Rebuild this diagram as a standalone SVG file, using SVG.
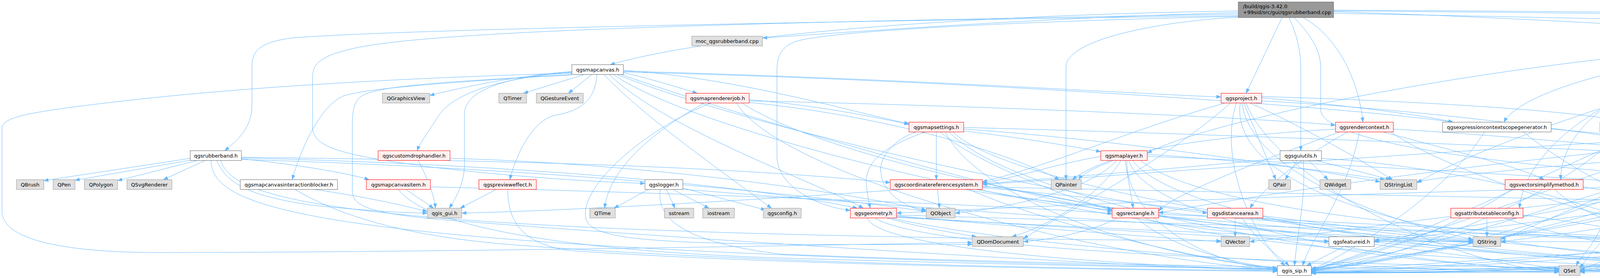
<svg xmlns="http://www.w3.org/2000/svg" width="6627" height="711" viewBox="0 0 6627 711">
<style>
.w{fill:#ffffff;stroke:#666666;stroke-width:1}
.g{fill:#e0e0e0;stroke:#999999;stroke-width:1}
.r{fill:#fff0f0;stroke:#ff0000;stroke-width:1}
.rt{fill:#999999;stroke:#666666;stroke-width:1}
text{font-family:"DejaVu Sans","Liberation Sans",sans-serif;font-size:13px;fill:#000000;text-anchor:middle}
#edges path{fill:none;stroke:#63b8ff;stroke-width:1;marker-end:url(#a)}
</style>
<defs>
<marker id="a" markerWidth="12" markerHeight="9" refX="12" refY="4.5" orient="auto" markerUnits="userSpaceOnUse"><path d="M0,0 L12,4.5 L0,9 z" fill="#63b8ff" stroke="#63b8ff" stroke-width="0.5"/></marker>
</defs>
<rect x="0" y="0" width="6627" height="711" fill="#ffffff"/>
<g id="edges">
<path d="M3170,40 C2300,52 1100,72 760,96 C665,105 645,130 645,170 L645,270 C645,325 610,358 575,385.5"/>
<path d="M3170,32 C2600,48 2150,85 1952,97"/>
<path d="M3170,28 C2400,40 1800,95 1562,165.5"/>
<path d="M3170,36 C2000,56 1100,76 900,125 C815,145 800,165 800,200 L800,325 C800,378 880,398 1110,428 C1350,456 1550,466 1651,469"/>
<path d="M3170,42 C2700,52 2150,75 2040,105 C2000,118 1989,145 1989,180 L1989,400 C1989,470 2080,527 2177,538"/>
<path d="M3170,44 C3000,52 2729,95 2729,172 L2729,459.5"/>
<path d="M3282,45 L3190,238.5"/>
<path d="M3300,45 C3322,95 3330,130 3330,180 L3330,385.5"/>
<path d="M3336,45 C3420,90 3478,200 3489,312.5"/>
<path d="M3313,45 C3360,95 3381,130 3381,175 L3381,280 C3381,360 3800,430 4584,468"/>
<path d="M3414,30 C4000,48 4500,85 4793,101"/>
<path d="M3414,28 C4500,35 5800,60 6250,85 C6330,95 6380,130 6400,165.5"/>
<path d="M3414,26 C4500,30 6000,55 6300,90 C6420,110 6500,140 6530,165.5"/>
<path d="M3414,34 C4500,55 5700,80 6150,130 C6250,145 6300,180 6306,238.5"/>
<path d="M487,405 L112,462"/>
<path d="M492,409 L192,461"/>
<path d="M505,410.5 L301,462"/>
<path d="M525,410.5 L418,459.5"/>
<path d="M618,406 C750,420 880,440 945,459.5"/>
<path d="M555,410.5 C580,470 640,502 800,525 C950,540 1040,545 1094,545"/>
<path d="M618,402 C1200,410 1800,420 2279,467"/>
<path d="M618,404 C1300,420 1900,470 2195,532.5"/>
<path d="M618,408 C1400,430 2100,500 2371,541"/>
<path d="M565,410.5 C600,520 900,600 3126,616"/>
<path d="M540,410.5 C545,540 800,640 3270,688"/>
<path d="M1464,183 C1300,195 1150,232 1100,244"/>
<path d="M1496,190.5 L1340,238.5"/>
<path d="M1515,190.5 L1455,238.5"/>
<path d="M1596,186 C1680,205 1740,225 1785,238.5"/>
<path d="M1464,186 C1250,200 1150,250 1120,300 C1095,340 1075,365 1068,385.5"/>
<path d="M1464,190 C1100,215 950,225 880,245 C820,270 770,380 748,459.5"/>
<path d="M1528,190.5 C1525,260 1480,285 1420,295 C1360,310 1320,400 1305,459.5"/>
<path d="M1464,184 C1300,195 1190,230 1189,290 L1189,420 C1189,470 1165,510 1150,532.5"/>
<path d="M1596,180 C1900,200 2200,292 2327,316"/>
<path d="M1546,190.5 C1650,300 1850,440 1975,532.5"/>
<path d="M1596,182 C2300,200 2900,240 3126,248"/>
<path d="M1596,184 C2600,210 3500,280 3720,312.5"/>
<path d="M1590,190.5 C1900,300 2600,500 2847,541"/>
<path d="M1580,190.5 C1900,320 2700,500 3091,545"/>
<path d="M1570,190.5 C1800,350 2800,580 3402,617"/>
<path d="M1560,190.5 C1700,330 2100,470 2210,532.5"/>
<path d="M1464,187 C1000,200 600,225 300,260 C60,288 5,300 5,330 L5,540 C5,610 150,645 400,646 C1200,645 2200,625 2489,620"/>
<path d="M1464,192 C1100,210 950,222 920,250 C905,265 902,290 902,320 L902,490 C902,530 960,545 1110,560 C1600,600 2800,680 3270,692"/>
<path d="M1918,255 C2100,270 2250,302 2327,318"/>
<path d="M1803,263.5 C1700,320 1560,420 1548,532.5"/>
<path d="M1918,258 C2500,270 3200,300 3419,320"/>
<path d="M1900,263.5 C2100,400 3000,650 4730,690"/>
<path d="M1885,263.5 C2000,450 2800,660 3270,690"/>
<path d="M1918,262 C2300,300 2600,400 2712,459.5"/>
<path d="M1820,263.5 C1650,330 1480,480 1500,560 C1520,620 1700,628 2489,625"/>
<path d="M804,484.5 C950,505 1050,530 1094,541"/>
<path d="M755,484.5 C850,540 1000,600 1300,625 C2000,680 3000,690 3270,692"/>
<path d="M1039,484.5 L1110,532.5"/>
<path d="M1102,478 C1600,490 2500,520 2847,546"/>
<path d="M1020,484.5 C1080,570 1400,640 2000,660 C2700,680 3100,686 3270,686"/>
<path d="M1152,405 C1700,420 2200,500 2371,537"/>
<path d="M1071,410.5 C1090,450 1110,490 1115,532.5"/>
<path d="M1270,484.5 L1178,532.5"/>
<path d="M1300,484.5 C1300,560 1330,620 1450,640 C2000,680 3000,692 3270,694"/>
<path d="M1706,484.5 L1728,532.5"/>
<path d="M1723,484.5 L1815,532.5"/>
<path d="M1748,481 L1960,537"/>
<path d="M1660,484.5 L1572,532.5"/>
<path d="M1690,484.5 C1680,560 1750,620 2000,650 C3000,690 4200,692 4730,692"/>
<path d="M1748,484 C2200,520 3300,600 3771,618"/>
<path d="M2397,337.5 L2397,459.5"/>
<path d="M2467,335 C2600,350 2750,375 2818,388"/>
<path d="M2345,337.5 C2280,360 2250,410 2255,440 C2260,500 2330,535 2371,540"/>
<path d="M2368,337.5 C2250,380 2215,420 2218,470 C2220,500 2225,520 2228,532.5"/>
<path d="M2407,337.5 C2500,420 2750,510 2847,538"/>
<path d="M2440,337.5 C2600,500 3800,680 4730,688"/>
<path d="M2420,337.5 C2500,500 2900,650 3270,686"/>
<path d="M2467,330 C2900,360 3400,440 3533,465"/>
<path d="M2467,326 C3200,345 4000,380 4311,395"/>
<path d="M2430,337.5 C2600,520 3500,680 3991,688"/>
<path d="M2850,410.5 C2800,430 2770,445 2762,459.5"/>
<path d="M2818,400 C2700,420 2600,455 2515,468"/>
<path d="M2880,410.5 L2901,532.5"/>
<path d="M2858,410.5 C2800,480 2600,530 2445,545"/>
<path d="M2870,410.5 C2800,520 2650,590 2590,605.5"/>
<path d="M2900,410.5 C3000,550 3700,680 4730,690"/>
<path d="M2885,410.5 C2880,560 3100,680 3270,689"/>
<path d="M2937,400 C3500,420 4800,500 5119,540"/>
<path d="M2937,395 C3200,410 3450,445 3545,459.5"/>
<path d="M2890,410.5 C2950,600 3800,690 3991,692"/>
<path d="M2920,410.5 C3100,560 4000,610 4258,615"/>
<path d="M2400,484.5 L2405,532.5"/>
<path d="M2500,484.5 C2900,560 4000,680 4730,689"/>
<path d="M2480,484.5 C2700,580 3100,670 3270,687"/>
<path d="M2515,480 C3000,520 3500,600 3771,615"/>
<path d="M2515,476 C2650,490 2780,520 2847,535"/>
<path d="M2515,478 C3500,500 4800,520 5119,543"/>
<path d="M2470,484.5 C2900,560 4000,610 4258,618"/>
<path d="M2270,557.5 C2350,580 2450,598 2500,605.5"/>
<path d="M2295,552 C2600,580 3000,610 3126,618"/>
<path d="M2295,556 C2900,590 3500,612 3771,620"/>
<path d="M2240,557.5 C2400,660 3800,690 4730,693"/>
<path d="M2220,557.5 C2250,640 2900,680 3270,690"/>
<path d="M2295,554 C2700,580 3200,610 3402,618"/>
<path d="M2295,550 C3000,570 3900,600 4258,612"/>
<path d="M2280,557.5 C2700,650 3600,692 3991,696"/>
<path d="M2860,557.5 C2800,590 2700,612 2620,618"/>
<path d="M2930,557.5 C3200,650 4200,690 4730,691"/>
<path d="M2910,557.5 C3000,640 3200,680 3270,686"/>
<path d="M2966,552 C3300,580 3600,610 3771,617"/>
<path d="M2966,548 C3500,570 4000,600 4258,610"/>
<path d="M3184,263.5 L3266,459.5"/>
<path d="M3200,263.5 C3350,330 3500,420 3565,459.5"/>
<path d="M3136,263.5 C2900,330 2700,420 2515,465"/>
<path d="M3230,250 C3450,270 3650,295 3720,312.5"/>
<path d="M3230,247 C3700,260 4100,290 4150,312.5"/>
<path d="M3175,263.5 C3150,450 3500,650 4730,690"/>
<path d="M3165,263.5 C3120,400 3200,600 3290,679.5"/>
<path d="M3230,258 C4000,300 4800,450 4900,532.5"/>
<path d="M3180,263.5 C3200,450 3600,580 3771,612"/>
<path d="M3150,263.5 C3000,400 2700,560 2620,610"/>
<path d="M3190,263.5 C3260,450 3700,680 3991,694"/>
<path d="M3419,330 C3100,350 2850,380 2745,459.5"/>
<path d="M3540,337.5 C3700,380 3900,430 3953,459.5"/>
<path d="M3567,330 C3900,350 4200,380 4311,392"/>
<path d="M3450,337.5 C3300,420 3220,500 3200,532.5"/>
<path d="M3430,337.5 C3200,420 3000,500 2966,540"/>
<path d="M3560,337.5 C3800,500 4500,660 4730,687"/>
<path d="M3480,337.5 C3450,500 3350,620 3335,679.5"/>
<path d="M3320,410.5 L3290,459.5"/>
<path d="M3350,410.5 L3400,459.5"/>
<path d="M3370,410.5 L3560,459.5"/>
<path d="M3277,405 C2500,480 1600,535 1182,545"/>
<path d="M3336,410.5 C3345,500 3320,600 3314,679.5"/>
<path d="M3383,405 C3800,430 4200,560 4270,605.5"/>
<path d="M3162,557.5 L3162,605.5"/>
<path d="M3233,552 C3600,600 4400,680 4730,690"/>
<path d="M3180,557.5 C3220,620 3280,660 3300,679.5"/>
<path d="M3440,630.5 L3345,679.5"/>
<path d="M3518,625 C3800,660 3950,680 3991,690"/>
<path d="M3518,617 L3771,618"/>
<path d="M3971,330 C4150,345 4280,360 4326,385.5"/>
<path d="M3800,337.5 C3700,500 3450,650 3357,690"/>
<path d="M3900,337.5 C4100,500 4500,660 4730,686"/>
<path d="M4250,337.5 L4340,385.5"/>
<path d="M4150,337.5 C4000,500 3600,660 3357,694"/>
<path d="M4053,478 C4200,500 4270,560 4280,605.5"/>
<path d="M3980,484.5 C4100,600 4500,680 4730,689"/>
<path d="M3870,484.5 C3700,600 3450,670 3357,690"/>
<path d="M3806.5,557.5 L3806.5,605.5"/>
<path d="M3850,557.5 C4100,640 4500,680 4730,688"/>
<path d="M3899,550 C4050,570 4200,595 4258,612"/>
<path d="M4300,630.5 C4500,670 4650,685 4730,689"/>
<path d="M4258,625 C4000,660 3600,690 3357,693"/>
<path d="M4258,618 L3842,618"/>
<path d="M4437,410.5 C4500,430 4560,445 4592,459.5"/>
<path d="M4415,410.5 C4500,500 4600,600 4745,679.5"/>
<path d="M4330,410.5 C4200,500 3700,660 3357,690"/>
<path d="M4320,410.5 C4100,500 3900,590 3842,612"/>
<path d="M4311,400 C4000,420 3700,450 3627,465"/>
<path d="M4340,410.5 C4200,440 4100,470 4105,540 C4108,600 4050,650 4035,679.5"/>
<path d="M4487,405 C4700,430 4880,490 4905,532.5"/>
<path d="M4487,402 C4800,420 5050,500 5135,532.5"/>
<path d="M4350,410.5 C4320,480 4295,560 4292,605.5"/>
<path d="M4890,117.5 L4985,165.5"/>
<path d="M4858,117.5 L4858,238.5"/>
<path d="M4843,117.5 C4790,170 4745,215 4750,250 C4755,285 4790,300 4805,312.5"/>
<path d="M4793,112 C4650,130 4580,180 4578,250 C4575,350 4600,410 4623,459.5"/>
<path d="M4793,110 C4600,130 4526,170 4526,230 L4526,550 C4526,580 4535,595 4540,605.5"/>
<path d="M4793,108 C4560,125 4470,180 4460,250 C4450,320 4425,360 4415,385.5"/>
<path d="M4793,104 C4500,120 4300,200 4230,312.5"/>
<path d="M4793,102 C4300,120 3900,220 3850,312.5"/>
<path d="M4793,106 C4200,140 4000,300 3995,459.5"/>
<path d="M4793,109 C4100,150 3900,400 3890,532.5"/>
<path d="M4793,100 C4000,120 3100,300 2937,392"/>
<path d="M4820,117.5 C4700,300 4700,550 4760,679.5"/>
<path d="M4800,117.5 C4300,250 3700,600 3357,689"/>
<path d="M4924,108 C5100,200 5150,400 5155,532.5"/>
<path d="M4810,117.5 C4400,300 4100,600 4045,686"/>
<path d="M4880,117.5 C4950,250 4930,450 4922,532.5"/>
<path d="M4793,111 C4200,200 3700,420 3627,468"/>
<path d="M4924,100 C5400,120 5900,160 6114,178"/>
<path d="M4924,103 C5500,125 6000,165 6198,176"/>
<path d="M4815,117.5 C4600,250 4350,500 4300,605.5"/>
<path d="M4924,113 C5050,150 5180,210 5206,238.5"/>
<path d="M4924,116 C5100,160 5330,210 5383,238.5"/>
<path d="M4924,110 C5400,130 5714,180 5714,250 C5714,350 5650,470 5578,532.5"/>
<path d="M4924,106 C5500,120 5800,160 5922,238.5"/>
<path d="M4924,109 C5500,135 5700,200 5838,312.5"/>
<path d="M4990,190.5 L4885,238.5"/>
<path d="M5005,190.5 C4980,240 4920,290 4880,312.5"/>
<path d="M4924,188 C4800,205 4720,240 4710,300 C4700,380 4650,430 4640,459.5"/>
<path d="M5040,190.5 C5000,300 4950,450 4930,532.5"/>
<path d="M5030,190.5 C5080,300 5140,450 5149,532.5"/>
<path d="M5052,190.5 C5150,210 5210,225 5229,238.5"/>
<path d="M5104,184 C5400,200 5550,300 5560,532.5"/>
<path d="M5000,190.5 C4950,400 4850,600 4800,679.5"/>
<path d="M4970,190.5 C4700,400 3800,650 3357,692"/>
<path d="M4985,190.5 C4800,400 4300,680 4045,694"/>
<path d="M4850,263.5 L4835,312.5"/>
<path d="M4945,263.5 C5050,400 5000,600 4826,688"/>
<path d="M4765,255 C4400,300 3700,600 3357,690"/>
<path d="M4825,337.5 L4665,459.5"/>
<path d="M4765,330 C4650,360 4550,385 4487,392"/>
<path d="M4850,337.5 L4905,532.5"/>
<path d="M4860,337.5 C4960,420 4980,600 4805,679.5"/>
<path d="M4765,332 C4400,360 3800,620 3357,687"/>
<path d="M4765,335 C4000,380 3200,500 2966,545"/>
<path d="M4765,333 C4000,360 3000,440 2515,472"/>
<path d="M4800,337.5 C4500,450 3800,580 3518,615"/>
<path d="M4780,337.5 C4500,420 4200,640 4045,690"/>
<path d="M4688,478 C4800,500 4870,520 4895,532.5"/>
<path d="M4660,484.5 C4700,560 4760,620 4770,679.5"/>
<path d="M4584,480 C4300,520 3700,640 3357,690"/>
<path d="M4688,475 C5000,490 5400,520 5508,545"/>
<path d="M4688,480 C4900,500 5050,530 5119,545"/>
<path d="M4584,472 C3800,480 2800,520 2295,545"/>
<path d="M4590,484.5 C4200,530 3700,600 3518,618"/>
<path d="M4584,476 C4000,500 3400,600 3199,618"/>
<path d="M4600,484.5 C4300,560 4000,600 3842,618"/>
<path d="M4610,484.5 C4400,600 4150,680 4045,692"/>
<path d="M4600,630.5 C4650,660 4700,675 4752,679.5"/>
<path d="M4446,625 C4000,650 3600,680 3357,692"/>
<path d="M5185,263.5 C5100,280 5000,300 4919,320"/>
<path d="M5255,263.5 C5300,400 5200,560 4826,690"/>
<path d="M5420,263.5 L5395,312.5"/>
<path d="M5374,263.5 C5250,300 5170,400 5152,532.5"/>
<path d="M5349,262 C5270,300 5242,360 5242,420 L5242,500 C5242,560 5100,660 4826,692"/>
<path d="M5460,263.5 C5600,350 5700,480 5600,560 C5400,660 3800,690 3357,695"/>
<path d="M5383,337.5 C5340,450 5280,560 5150,600 C5000,650 4900,680 4826,692"/>
<path d="M5299,335 C4900,360 3800,640 3357,691"/>
<path d="M5299,330 C5000,345 4700,380 4487,397"/>
<path d="M5446,337.5 C5700,420 5750,600 5600,640 C5300,690 3800,696 3357,696"/>
<path d="M5320,337.5 C5000,500 4400,690 4045,696"/>
<path d="M5508,550 C5300,600 5000,670 4826,690"/>
<path d="M5520,557.5 C5300,640 4000,690 3357,696"/>
<path d="M5862,258 C5500,270 5100,300 4919,318"/>
<path d="M6013,258 C6150,275 6250,320 6251,400 L6251,560 C6251,640 5500,680 4826,694"/>
<path d="M6296,263.5 C6100,400 5950,480 5890,532.5"/>
<path d="M6314,263.5 C6340,320 6353,350 6353,400 L6353,560 C6353,640 5500,685 4826,696"/>
<path d="M6278,263.5 C6000,400 5000,640 3357,697"/>
<path d="M6260,263.5 C5800,450 4800,600 4320,615"/>
<path d="M6254,258 C5900,270 5600,300 5474,320"/>
<path d="M6380,190.5 L6325,238.5"/>
<path d="M6415,190.5 C6480,280 6506,380 6506,460 L6506,540 C6506,620 5600,690 4826,697"/>
<path d="M6374,190.5 C6200,250 5800,400 5000,600 C4500,680 3800,697 3357,697"/>
<path d="M6520,190.5 C6450,210 6400,225 6359,240"/>
<path d="M6557,190.5 L6557,540 C6557,620 6400,650 6000,670 C5500,690 5000,698 4826,698"/>
<path d="M6540,190.5 C6200,300 5800,450 5000,600 C4500,680 3800,698 3357,698"/>
<path d="M5800,337.5 C5700,500 5300,650 4826,691"/>
<path d="M5751,330 C5300,345 4700,385 4487,400"/>
<path d="M5963,340 C6100,350 6180,380 6180,450 L6180,560 C6180,640 5500,680 3357,699"/>
<path d="M5790,550 C5500,570 5000,640 4826,690"/>
<path d="M5850,557.5 C5830,620 5600,660 5000,680 C4500,695 3800,698 3357,698"/>
</g>
<g id="n_root"><rect class="rt" x="3170" y="5" width="244" height="40"/><text x="3182" y="21" style="text-anchor:start">/build/qgis-3.42.0</text><text x="3182" y="36" style="text-anchor:start">+99sid/src/gui/qgsrubberband.cpp</text></g>
<g id="n_rubberband"><rect class="w" x="487" y="385.5" width="131" height="25"/><text x="552.5" y="402.5">qgsrubberband.h</text></g>
<g id="n_qbrush"><rect class="g" x="42" y="459.5" width="70" height="25"/><text x="77" y="476.5">QBrush</text></g>
<g id="n_qpen"><rect class="g" x="136" y="459.5" width="56" height="25"/><text x="164" y="476.5">QPen</text></g>
<g id="n_qpolygon"><rect class="g" x="216" y="459.5" width="85" height="25"/><text x="258.5" y="476.5">QPolygon</text></g>
<g id="n_qsvgrenderer"><rect class="g" x="325" y="459.5" width="115" height="25"/><text x="382.5" y="476.5">QSvgRenderer</text></g>
<g id="n_moc"><rect class="g" x="1771" y="92.5" width="181" height="25"/><text x="1861.5" y="109.5">moc_qgsrubberband.cpp</text></g>
<g id="n_mapcanvas"><rect class="w" x="1464" y="165.5" width="132" height="25"/><text x="1530" y="182.5">qgsmapcanvas.h</text></g>
<g id="n_qgraphicsview"><rect class="g" x="979" y="238.5" width="121" height="25"/><text x="1039.5" y="255.5">QGraphicsView</text></g>
<g id="n_qtimer"><rect class="g" x="1277" y="238.5" width="71" height="25"/><text x="1312.5" y="255.5">QTimer</text></g>
<g id="n_qgestureevent"><rect class="g" x="1373" y="238.5" width="120" height="25"/><text x="1433" y="255.5">QGestureEvent</text></g>
<g id="n_maprendererjob"><rect class="r" x="1756" y="238.5" width="162" height="25"/><text x="1837" y="255.5">qgsmaprendererjob.h</text></g>
<g id="n_customdrophandler"><rect class="r" x="968" y="385.5" width="184" height="25"/><text x="1060" y="402.5">qgscustomdrophandler.h</text></g>
<g id="n_interactionblocker"><rect class="w" x="615" y="459.5" width="249" height="25"/><text x="739.5" y="476.5">qgsmapcanvasinteractionblocker.h</text></g>
<g id="n_mapcanvasitem"><rect class="r" x="938" y="459.5" width="164" height="25"/><text x="1020" y="476.5">qgsmapcanvasitem.h</text></g>
<g id="n_previeweffect"><rect class="r" x="1226" y="459.5" width="147" height="25"/><text x="1299.5" y="476.5">qgsprevieweffect.h</text></g>
<g id="n_qgis_gui"><rect class="g" x="1094" y="532.5" width="88" height="25"/><text x="1138" y="549.5">qgis_gui.h</text></g>
<g id="n_qtime"><rect class="g" x="1510" y="532.5" width="65" height="25"/><text x="1542.5" y="549.5">QTime</text></g>
<g id="n_logger"><rect class="w" x="1651" y="459.5" width="97" height="25"/><text x="1699.5" y="476.5">qgslogger.h</text></g>
<g id="n_sstream"><rect class="g" x="1701" y="532.5" width="75" height="25"/><text x="1738.5" y="549.5">sstream</text></g>
<g id="n_iostream"><rect class="g" x="1799" y="532.5" width="81" height="25"/><text x="1839.5" y="549.5">iostream</text></g>
<g id="n_qgsconfig"><rect class="g" x="1954" y="532.5" width="97" height="25"/><text x="2002.5" y="549.5">qgsconfig.h</text></g>
<g id="n_geometry"><rect class="r" x="2177" y="532.5" width="118" height="25"/><text x="2236" y="549.5">qgsgeometry.h</text></g>
<g id="n_mapsettings"><rect class="r" x="2327" y="312.5" width="140" height="25"/><text x="2397" y="329.5">qgsmapsettings.h</text></g>
<g id="n_maplayer"><rect class="r" x="2818" y="385.5" width="119" height="25"/><text x="2877.5" y="402.5">qgsmaplayer.h</text></g>
<g id="n_crs"><rect class="r" x="2279" y="459.5" width="236" height="25"/><text x="2397" y="476.5">qgscoordinatereferencesystem.h</text></g>
<g id="n_qpainter"><rect class="g" x="2691" y="459.5" width="77" height="25"/><text x="2729.5" y="476.5">QPainter</text></g>
<g id="n_qobject"><rect class="g" x="2371" y="532.5" width="74" height="25"/><text x="2408" y="549.5">QObject</text></g>
<g id="n_rectangle"><rect class="r" x="2847" y="532.5" width="119" height="25"/><text x="2906.5" y="549.5">qgsrectangle.h</text></g>
<g id="n_qdomdocument"><rect class="g" x="2489" y="605.5" width="131" height="25"/><text x="2554.5" y="622.5">QDomDocument</text></g>
<g id="n_project"><rect class="r" x="3126" y="238.5" width="104" height="25"/><text x="3178" y="255.5">qgsproject.h</text></g>
<g id="n_rendercontext"><rect class="r" x="3419" y="312.5" width="148" height="25"/><text x="3493" y="329.5">qgsrendercontext.h</text></g>
<g id="n_guiutils"><rect class="w" x="3277" y="385.5" width="106" height="25"/><text x="3330" y="402.5">qgsguiutils.h</text></g>
<g id="n_qpair"><rect class="g" x="3248" y="459.5" width="56" height="25"/><text x="3276" y="476.5">QPair</text></g>
<g id="n_qwidget"><rect class="g" x="3379" y="459.5" width="79" height="25"/><text x="3418.5" y="476.5">QWidget</text></g>
<g id="n_qstringlist"><rect class="g" x="3533" y="459.5" width="94" height="25"/><text x="3580" y="476.5">QStringList</text></g>
<g id="n_distancearea"><rect class="r" x="3091" y="532.5" width="142" height="25"/><text x="3162" y="549.5">qgsdistancearea.h</text></g>
<g id="n_qvector"><rect class="g" x="3126" y="605.5" width="73" height="25"/><text x="3162.5" y="622.5">QVector</text></g>
<g id="n_featureid"><rect class="w" x="3402" y="605.5" width="116" height="25"/><text x="3460" y="622.5">qgsfeatureid.h</text></g>
<g id="n_qgis_sip"><rect class="w" x="3270" y="679.5" width="87" height="25"/><text x="3313.5" y="696.5">qgis_sip.h</text></g>
<g id="n_ecscopegen"><rect class="w" x="3693" y="312.5" width="278" height="25"/><text x="3832" y="329.5">qgsexpressioncontextscopegenerator.h</text></g>
<g id="n_ecgen"><rect class="w" x="4096" y="312.5" width="239" height="25"/><text x="4215.5" y="329.5">qgsexpressioncontextgenerator.h</text></g>
<g id="n_simplifymethod"><rect class="r" x="3853" y="459.5" width="200" height="25"/><text x="3953" y="476.5">qgsvectorsimplifymethod.h</text></g>
<g id="n_attributetableconfig"><rect class="r" x="3714" y="532.5" width="185" height="25"/><text x="3806.5" y="549.5">qgsattributetableconfig.h</text></g>
<g id="n_qstring"><rect class="g" x="3771" y="605.5" width="71" height="25"/><text x="3806.5" y="622.5">QString</text></g>
<g id="n_qgis"><rect class="r" x="4258" y="605.5" width="62" height="25"/><text x="4289" y="622.5">qgis.h</text></g>
<g id="n_qset"><rect class="g" x="3991" y="679.5" width="54" height="25"/><text x="4018" y="696.5">QSet</text></g>
<g id="n_expressioncontext"><rect class="r" x="4311" y="385.5" width="176" height="25"/><text x="4399" y="402.5">qgsexpressioncontext.h</text></g>
<g id="n_vectorlayer"><rect class="w" x="4793" y="92.5" width="131" height="25"/><text x="4858.5" y="109.5">qgsvectorlayer.h</text></g>
<g id="n_vectordataprovider"><rect class="r" x="4924" y="165.5" width="180" height="25"/><text x="5014" y="182.5">qgsvectordataprovider.h</text></g>
<g id="n_aggregatecalculator"><rect class="r" x="4765" y="238.5" width="187" height="25"/><text x="4858.5" y="255.5">qgsaggregatecalculator.h</text></g>
<g id="n_featurerequest"><rect class="r" x="4765" y="312.5" width="154" height="25"/><text x="4842" y="329.5">qgsfeaturerequest.h</text></g>
<g id="n_feature"><rect class="r" x="4584" y="459.5" width="104" height="25"/><text x="4636" y="476.5">qgsfeature.h</text></g>
<g id="n_qlist"><rect class="g" x="4887" y="532.5" width="55" height="25"/><text x="4914.5" y="549.5">QList</text></g>
<g id="n_profilesource"><rect class="w" x="4446" y="605.5" width="194" height="25"/><text x="4543" y="622.5">qgsabstractprofilesource.h</text></g>
<g id="n_qgis_core"><rect class="g" x="4730" y="679.5" width="96" height="25"/><text x="4778" y="696.5">qgis_core.h</text></g>
<g id="n_featuresource"><rect class="w" x="5178" y="238.5" width="147" height="25"/><text x="5251.5" y="255.5">qgsfeaturesource.h</text></g>
<g id="n_editformconfig"><rect class="r" x="5349" y="238.5" width="152" height="25"/><text x="5425" y="255.5">qgseditformconfig.h</text></g>
<g id="n_propertycollection"><rect class="r" x="5299" y="312.5" width="175" height="25"/><text x="5386.5" y="329.5">qgspropertycollection.h</text></g>
<g id="n_qmap"><rect class="g" x="5119" y="532.5" width="60" height="25"/><text x="5149" y="549.5">QMap</text></g>
<g id="n_fields"><rect class="r" x="5508" y="532.5" width="93" height="25"/><text x="5554.5" y="549.5">qgsfields.h</text></g>
<g id="n_qfont"><rect class="g" x="6114" y="165.5" width="60" height="25"/><text x="6144" y="182.5">QFont</text></g>
<g id="n_qmutex"><rect class="g" x="6198" y="165.5" width="74" height="25"/><text x="6235" y="182.5">QMutex</text></g>
<g id="n_fillsymbol"><rect class="w" x="6347" y="165.5" width="122" height="25"/><text x="6408" y="182.5">qgsfillsymbol.h</text></g>
<g id="n_linesymbol"><rect class="w" x="6492" y="165.5" width="130" height="25"/><text x="6557" y="182.5">qgslinesymbol.h</text></g>
<g id="n_featureiterator"><rect class="r" x="5862" y="238.5" width="151" height="25"/><text x="5937.5" y="255.5">qgsfeatureiterator.h</text></g>
<g id="n_symbol"><rect class="w" x="6254" y="238.5" width="105" height="25"/><text x="6306.5" y="255.5">qgssymbol.h</text></g>
<g id="n_toolscontext"><rect class="r" x="5751" y="312.5" width="212" height="25"/><text x="5857" y="329.5">qgsvectorlayertoolscontext.h</text></g>
<g id="n_screenproperties"><rect class="w" x="5778" y="532.5" width="167" height="25"/><text x="5861.5" y="549.5">qgsscreenproperties.h</text></g>
</svg>
